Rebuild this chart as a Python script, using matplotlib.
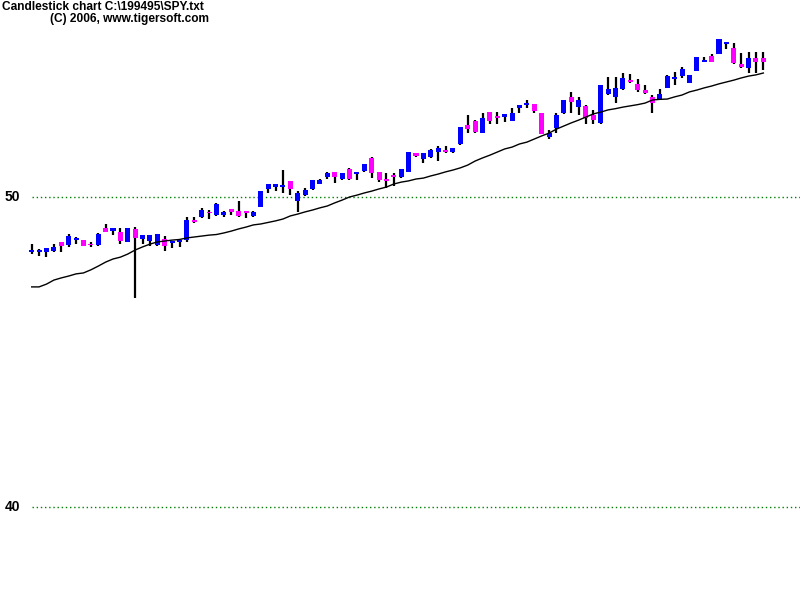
import matplotlib
matplotlib.use("Agg")
import matplotlib.pyplot as plt
import numpy as np

title = "Candlestick chart C:\\199495\\SPY.txt"
subtitle = "(C) 2006, www.tigersoft.com"

opens = [48.24, 48.23, 48.23, 48.27, 48.55, 48.45, 48.61, 48.61, 48.47, 48.45,
         49.00, 48.90, 48.87, 48.55, 48.97, 48.65, 48.58, 48.45, 48.65, 48.52,
         48.55, 48.61, 49.23, 49.35, 49.52, 49.42, 49.42, 49.61, 49.55, 49.52,
         49.39, 49.68, 50.26, 50.32, 50.32, 50.52, 49.87, 50.06, 50.26, 50.42,
         50.65, 50.81, 50.58, 50.90, 50.74, 50.84, 51.26, 50.81, 50.58, 50.68,
         50.65, 50.81, 51.42, 51.23, 51.29, 51.45, 51.52, 51.45, 51.71, 52.32,
         52.45, 52.06, 52.74, 52.61, 52.58, 52.45, 52.87, 52.97, 53.00, 52.71,
         51.94, 52.23, 52.71, 53.23, 52.90, 52.94, 52.65, 52.39, 53.32, 53.23,
         53.48, 53.77, 53.65, 53.45, 53.23, 53.16, 53.52, 53.81, 53.90, 53.68,
         54.06, 54.36, 54.55, 54.61, 54.95, 54.81, 54.29, 54.16, 54.48, 54.48]
closes = [48.29, 48.29, 48.35, 48.39, 48.42, 48.74, 48.65, 48.42, 48.44, 48.81,
          48.87, 49.00, 48.58, 49.00, 48.68, 48.77, 48.77, 48.81, 48.42, 48.55,
          48.58, 49.26, 49.19, 49.58, 49.47, 49.77, 49.52, 49.52, 49.39, 49.48,
          49.52, 50.19, 50.42, 50.42, 50.39, 50.26, 50.13, 50.23, 50.55, 50.55,
          50.77, 50.65, 50.77, 50.58, 50.77, 51.06, 50.77, 50.55, 50.52, 50.65,
          50.90, 51.45, 51.32, 51.42, 51.52, 51.58, 51.45, 51.58, 52.26, 52.19,
          52.10, 52.55, 52.45, 52.55, 52.68, 52.71, 52.97, 53.01, 52.77, 52.03,
          52.06, 52.65, 53.13, 53.06, 53.13, 52.55, 52.48, 53.61, 53.48, 53.52,
          53.84, 53.71, 53.45, 53.35, 53.03, 53.32, 53.90, 53.87, 54.13, 53.94,
          54.52, 54.39, 54.36, 55.10, 54.98, 54.32, 54.19, 54.48, 54.36, 54.36]
highs = [48.48, 48.32, 48.35, 48.48, 48.55, 48.81, 48.71, 48.61, 48.55, 48.84,
         49.13, 49.00, 49.00, 49.00, 49.03, 48.77, 48.77, 48.81, 48.74, 48.55,
         48.58, 49.35, 49.35, 49.65, 49.58, 49.81, 49.55, 49.61, 49.87, 49.52,
         49.55, 50.19, 50.42, 50.42, 50.87, 50.52, 50.19, 50.29, 50.55, 50.58,
         50.81, 50.81, 50.77, 50.94, 50.77, 51.06, 51.29, 50.81, 50.77, 50.77,
         50.90, 51.45, 51.42, 51.42, 51.55, 51.65, 51.65, 51.58, 52.26, 52.65,
         52.48, 52.71, 52.74, 52.74, 52.68, 52.87, 52.97, 53.13, 53.00, 52.71,
         52.16, 52.71, 53.13, 53.39, 53.23, 52.97, 52.81, 53.61, 53.87, 53.87,
         54.00, 53.97, 53.81, 53.61, 53.29, 53.48, 53.94, 54.03, 54.19, 53.94,
         54.52, 54.52, 54.61, 55.10, 55.00, 54.97, 54.65, 54.68, 54.68, 54.68]
lows = [48.16, 48.10, 48.06, 48.23, 48.23, 48.39, 48.48, 48.42, 48.39, 48.42,
        48.87, 48.77, 48.48, 48.55, 46.74, 48.48, 48.42, 48.42, 48.26, 48.35,
        48.39, 48.55, 49.16, 49.32, 49.29, 49.39, 49.35, 49.42, 49.35, 49.32,
        49.35, 49.68, 50.13, 50.19, 50.13, 50.06, 49.52, 50.03, 50.23, 50.42,
        50.58, 50.45, 50.55, 50.55, 50.55, 50.81, 50.61, 50.48, 50.29, 50.35,
        50.61, 50.81, 51.29, 51.10, 51.26, 51.16, 51.42, 51.42, 51.68, 52.06,
        52.06, 52.06, 52.35, 52.35, 52.42, 52.45, 52.71, 52.87, 52.71, 52.03,
        51.87, 52.06, 52.68, 52.71, 52.65, 52.35, 52.35, 52.35, 53.29, 53.03,
        53.45, 53.68, 53.39, 53.32, 52.71, 53.13, 53.52, 53.61, 53.84, 53.68,
        54.06, 54.36, 54.36, 54.61, 54.77, 54.29, 54.16, 54.00, 54.00, 54.10]
moving_avg = [47.10, 47.10, 47.19, 47.32, 47.39, 47.45, 47.52, 47.55, 47.65, 47.77,
              47.90, 48.00, 48.06, 48.16, 48.29, 48.39, 48.48, 48.55, 48.58, 48.61,
              48.63, 48.68, 48.71, 48.74, 48.77, 48.79, 48.84, 48.90, 48.97, 49.03,
              49.10, 49.13, 49.18, 49.23, 49.29, 49.39, 49.45, 49.52, 49.58, 49.65,
              49.71, 49.81, 49.90, 50.00, 50.06, 50.13, 50.19, 50.26, 50.32, 50.42,
              50.48, 50.52, 50.58, 50.61, 50.68, 50.74, 50.81, 50.87, 50.94, 51.03,
              51.16, 51.26, 51.35, 51.45, 51.55, 51.61, 51.71, 51.77, 51.87, 51.97,
              52.06, 52.19, 52.29, 52.39, 52.48, 52.58, 52.68, 52.74, 52.81, 52.85,
              52.90, 52.94, 52.98, 53.03, 53.13, 53.15, 53.16, 53.23, 53.29, 53.39,
              53.45, 53.52, 53.58, 53.65, 53.71, 53.77, 53.84, 53.90, 53.94, 54.00]
y_ticks = [50, 40]

UP = "#0000ff"
DOWN = "#ff00ff"

fig = plt.figure(figsize=(8, 6), dpi=100)
ax = fig.add_axes([0, 0, 1, 1])
ax.set_xlim(-4.29, 103.96)
ax.set_ylim(37.0, 56.355)
ax.axis("off")

idx = np.arange(len(opens))
o = np.array(opens); c = np.array(closes)
h = np.array(highs); l = np.array(lows)

# wicks
ax.vlines(idx, l, h, color="black", linewidth=1.6, zorder=2)
# bodies
bottoms = np.minimum(o, c)
heights = np.maximum(np.abs(c - o), 0.06)
colors = [UP if cc > oo else DOWN for oo, cc in zip(o, c)]
ax.bar(idx, heights, bottom=bottoms, width=0.68, color=colors, linewidth=0, zorder=3)

# moving average
ax.plot(idx, moving_avg, color="black", linewidth=1.0, zorder=4)

# grid lines & labels
for t in y_ticks:
    ax.hlines(t, 0, 103.96, colors="#008000", linestyles=(0, (1, 2)), linewidth=1.0, zorder=1)
    ax.text(-3.65, t, str(t), ha="left", va="center", fontsize=10,
            fontweight="bold", family="Liberation Sans", color="black")

fig.text(2 / 800, 1 - 10.5 / 600, title, ha="left", va="baseline", fontsize=8.6,
         fontweight="bold", family="Liberation Sans")
fig.text(50 / 800, 1 - 22 / 600, subtitle, ha="left", va="baseline", fontsize=8.6,
         fontweight="bold", family="Liberation Sans")

fig.savefig("out.png", dpi=100)
